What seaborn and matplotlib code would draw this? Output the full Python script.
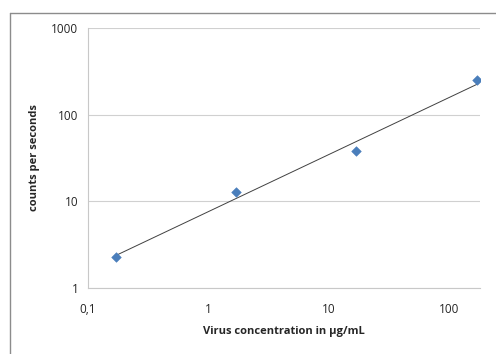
import numpy as np
import pandas as pd
import matplotlib
matplotlib.use("Agg")
import matplotlib.pyplot as plt
import seaborn as sns
from matplotlib.lines import Line2D
from matplotlib.ticker import FixedLocator, FixedFormatter, NullLocator

concentration = [0.17, 1.7, 17, 170]
counts = [2.3, 12.8, 38, 250]
x_ticks = [0.1, 1, 10, 100]
x_tick_labels = ["0,1", "1", "10", "100"]
y_ticks = [1, 10, 100, 1000]
y_tick_labels = ["1", "10", "100", "1000"]

df = pd.DataFrame({"conc": concentration, "cps": counts})

sns.set_style("white")
plt.rcParams["font.family"] = ["Open Sans", "DejaVu Sans"]

fig = plt.figure(figsize=(4.96, 3.54), dpi=100)
W, H = 496, 354
ax = fig.add_axes([88 / W, 1 - 288 / H, (480 - 88) / W, (288 - 28) / H])

ax.set_xscale("log")
ax.set_yscale("log")

# power trendline fitted from the data
b, a = np.polyfit(np.log10(df["conc"]), np.log10(df["cps"]), 1)
xs = np.array([df["conc"].min(), df["conc"].max()])
ax.plot(xs, 10 ** (a + b * np.log10(xs)), color="#404040", lw=0.7, zorder=2)

sns.scatterplot(data=df, x="conc", y="cps", marker="D", s=24, color="#4a7ebb",
                edgecolor="#4a7ebb", linewidth=0.4, ax=ax, zorder=3)

ax.set_xlim(0.1, 181)
ax.set_ylim(1, 1000)
ax.xaxis.set_major_locator(FixedLocator(x_ticks))
ax.xaxis.set_major_formatter(FixedFormatter(x_tick_labels))
ax.xaxis.set_minor_locator(NullLocator())
ax.yaxis.set_major_locator(FixedLocator(y_ticks))
ax.yaxis.set_major_formatter(FixedFormatter(y_tick_labels))
ax.yaxis.set_minor_locator(NullLocator())

ax.grid(axis="y", color="#d0d0d0", lw=0.8)
ax.grid(axis="x", visible=False)
for s in ["top", "right"]:
    ax.spines[s].set_visible(False)
for s in ["left", "bottom"]:
    ax.spines[s].set_color("#c8c8c8")
    ax.spines[s].set_linewidth(0.8)
ax.tick_params(axis="both", which="major", length=3, width=0.8, color="#c8c8c8",
               labelsize=8.5, labelcolor="#262626", direction="out")
ax.tick_params(axis="x", pad=8)
ax.tick_params(axis="y", pad=4)

ax.set_xlabel("Virus concentration in µg/mL", fontsize=8, fontweight="bold",
              color="#262626", labelpad=7)
ax.set_ylabel("counts per seconds", fontsize=8, fontweight="bold",
              color="#262626", labelpad=8)

# outer chart border
fig.add_artist(Line2D([10 / W, 10 / W], [0, 1 - 13 / H], transform=fig.transFigure,
                      color="#8c8c8c", lw=1.0))
fig.add_artist(Line2D([10 / W, 1], [1 - 13 / H, 1 - 13 / H], transform=fig.transFigure,
                      color="#8c8c8c", lw=1.0))

fig.savefig("out.png", dpi=100)
